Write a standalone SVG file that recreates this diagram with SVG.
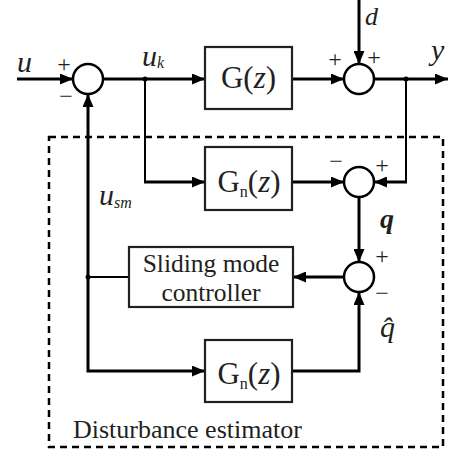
<svg xmlns="http://www.w3.org/2000/svg" width="449" height="452" viewBox="0 0 449 452">
<defs>
<marker id="ah" markerUnits="userSpaceOnUse" markerWidth="13" markerHeight="11" refX="13" refY="5.5" orient="auto">
<path d="M0,0 L13,5.5 L0,11 z" fill="#000"/>
</marker>
<style>
.blk{fill:#fff;stroke:#231f20;stroke-width:2.2}
.sum{fill:#fff;stroke:#000;stroke-width:2.5}
.w{fill:none;stroke:#000;stroke-width:3}
.t{fill:none;stroke:#000;stroke-width:2}
text{font-family:'Liberation Serif','Tinos','Times New Roman',Times,'DejaVu Serif',serif;fill:#231f20}
.it{font-style:italic}
.sg{font-size:24px}
</style>
</defs>
<rect width="449" height="452" fill="#fff"/>
<rect x="49" y="137" width="394" height="310" fill="none" stroke="#000" stroke-width="2.5" stroke-dasharray="7 5"/>
<g id="connectors">
<path class="w" d="M17,79 H73" marker-end="url(#ah)"/>
<path class="w" d="M103,79 H205" marker-end="url(#ah)"/>
<path class="w" d="M292,79 H344" marker-end="url(#ah)"/>
<path class="w" d="M359,0 V64" marker-end="url(#ah)"/>
<path class="w" d="M374,79 H448" marker-end="url(#ah)"/>
<path class="t" d="M145,79 V182"/>
<path class="w" d="M144,182 H205" marker-end="url(#ah)"/>
<path class="w" d="M292,182 H344" marker-end="url(#ah)"/>
<path class="t" d="M406,79 V182"/>
<path class="w" d="M407,182 H374" marker-end="url(#ah)"/>
<path class="w" d="M359,197 V262" marker-end="url(#ah)"/>
<path class="w" d="M344,277 H293" marker-end="url(#ah)"/>
<path class="t" d="M129,277 H88"/>
<path class="w" d="M88,277 V94" marker-end="url(#ah)"/>
<path class="w" d="M88,276 V371 H205" marker-end="url(#ah)"/>
<path class="w" d="M292,371 H359 V292" marker-end="url(#ah)"/>
<circle cx="145" cy="79" r="2.5"/>
<circle cx="406" cy="79" r="2.5"/>
<circle cx="88" cy="277" r="2.5"/>
</g>
<g id="sum1"><circle class="sum" cx="88" cy="79" r="15"/>
<text class="sg" x="64" y="72" text-anchor="middle">+</text>
<text class="sg" x="66" y="104" text-anchor="middle">−</text></g>
<g id="sum2"><circle class="sum" cx="359" cy="79" r="15"/>
<text class="sg" x="335" y="67" text-anchor="middle">+</text>
<text class="sg" x="374" y="65" text-anchor="middle">+</text></g>
<g id="sum3"><circle class="sum" cx="359" cy="182" r="15"/>
<text class="sg" x="336" y="169" text-anchor="middle">−</text>
<text class="sg" x="382" y="173" text-anchor="middle">+</text></g>
<g id="sum4"><circle class="sum" cx="359" cy="277" r="15"/>
<text class="sg" x="382" y="264" text-anchor="middle">+</text>
<text class="sg" x="382" y="301" text-anchor="middle">−</text></g>
<g id="G"><rect class="blk" x="205" y="47" width="87" height="62"/>
<text x="248.5" y="88" font-size="31" text-anchor="middle">G(<tspan class="it">z</tspan>)</text></g>
<g id="Gn1"><rect class="blk" x="205" y="147" width="87" height="63"/>
<text x="249" y="192" font-size="31" text-anchor="middle">G<tspan font-size="16" dy="5">n</tspan><tspan dy="-5">(</tspan><tspan class="it">z</tspan>)</text></g>
<g id="SMC"><rect class="blk" x="129" y="247" width="164" height="60"/>
<text x="211" y="272" font-size="25.5" text-anchor="middle">Sliding mode</text>
<text x="211" y="301" font-size="25.5" text-anchor="middle">controller</text></g>
<g id="Gn2"><rect class="blk" x="205" y="340" width="87" height="62"/>
<text x="249" y="384" font-size="31" text-anchor="middle">G<tspan font-size="16" dy="5">n</tspan><tspan dy="-5">(</tspan><tspan class="it">z</tspan>)</text></g>
<g id="labels">
<text class="it" x="17" y="72" font-size="30">u</text>
<text class="it" x="142" y="66" font-size="30">u<tspan font-size="16" dy="2">k</tspan></text>
<text class="it" x="365" y="25" font-size="26">d</text>
<text class="it" x="431" y="60" font-size="30">y</text>
<text class="it" x="99" y="205" font-size="30">u<tspan font-size="16" dy="3">sm</tspan></text>
<text class="it" x="380" y="228" font-size="28" font-weight="bold">q</text>
<text class="it" x="380" y="337" font-size="30">q̂</text>
<text x="73" y="438" font-size="26">Disturbance estimator</text>
</g>
</svg>
